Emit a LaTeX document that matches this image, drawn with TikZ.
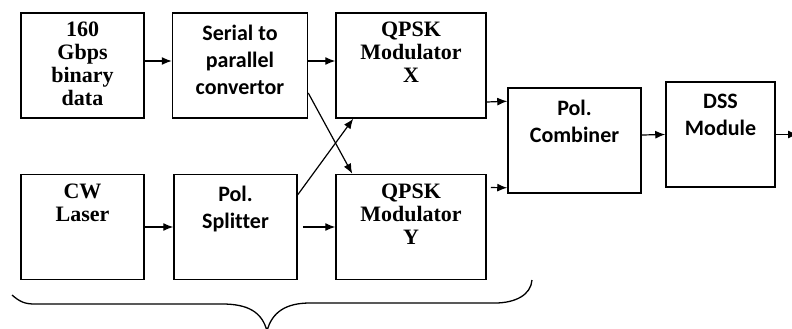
\documentclass[tikz,border=0pt]{standalone}
\usepackage{fontspec}
\setmainfont{Liberation Serif}
\newfontfamily\calibri[Ligatures=NoCommon]{Carlito}
\usetikzlibrary{arrows.meta, positioning}

\begin{document}
\begin{tikzpicture}[x=1pt,y=-1pt,>={Latex[length=10pt,width=8pt]},line width=1.2pt,
  box node/.style={draw,line width=1.5pt,minimum width=123pt,minimum height=105pt,inner sep=0pt},
  serif text/.style={anchor=north,inner sep=0pt,yshift=-9.5pt,align=center,
    font=\bfseries\fontsize{22}{23}\selectfont},
  sans text/.style={anchor=north,inner sep=0pt,yshift=-12pt,align=center,
    font=\calibri\bfseries\fontsize{22}{27}\selectfont}]

  \clip (0,0) rectangle (792,329);

	\node[box node,label={[serif text]north:{160\\Gbps\\binary\\data}}] (1) at (82.5,65.5) {};
    \node[box node,minimum width=135pt,label={[sans text]north:{Serial to\\parallel\\convertor}}] (2) [right=27pt of 1] {};
    \node[box node,minimum width=150pt,label={[serif text]north:{QPSK\\Modulator\\X}}] (3) [right=27pt of 2] {};
    \node[box node,label={[serif text]north:{CW\\Laser}}] (4) [below=55pt of 1] {};
    \node[box node,label={[sans text]north:{Pol.\\Splitter}}] (5) [right=28.5pt of 4] {};
    \node[box node,minimum width=150pt,label={[serif text]north:{QPSK\\Modulator\\Y}}] (6) [below=55pt of 3] {};
    \node[box node,minimum width=133pt,label={[sans text]north:{Pol.\\Combiner}}] (7) at (574.5,140.5) {};
    \node[box node,minimum width=109pt,label={[sans text]north:{DSS\\Module}}] (8) at (720.5,134.5) {};
    \coordinate (out) at (798,134.5);

    \draw[->] ([yshift=4.5pt]1.east) -- ([yshift=4.5pt]2.west);
    \draw[->] ([yshift=4.5pt]2.east) -- ([yshift=4.5pt]3.west);
    \draw[->] (4.east) -- (5.west);
    \draw[->,shorten <=5pt] (5.east) -- (6.west);
    \draw[->] ([yshift=-27.5pt]2.east) -- ([xshift=17pt]6.north west);
    \draw[->] ([yshift=-21pt]5.north east) -- ([xshift=18pt]3.south west);
    \draw[->] ([yshift=-36.5pt]3.east) -- ([yshift=-14pt]7.north west);
    \draw[->,shorten <=4pt] ([yshift=39.5pt]6.east) -- ([yshift=6pt]7.south west);
    \draw[->] ([yshift=5.5pt]7.east) -- (8.west);
    \draw[->] (8.east) -- (out);

    % brace under the transmitter blocks
    \draw[line width=1.3pt] (12,295) .. controls (20,302) and (25,304) .. (35,304) -- (222,304)
      .. controls (248,304) and (262,312) .. (267,331)
      .. controls (272,312) and (286,303) .. (310,303) -- (495,303)
      .. controls (515,303) and (531,295) .. (532,280);

\end{tikzpicture}
\end{document}
